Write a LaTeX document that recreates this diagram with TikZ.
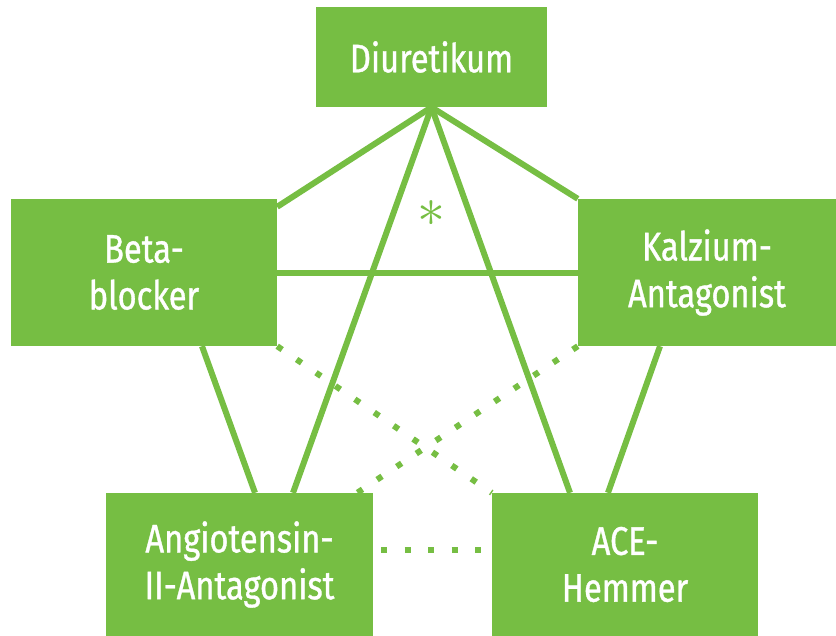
\documentclass[tikz,border=0pt]{standalone}
\usepackage{xcolor}
\usepackage{fontspec}
\setmainfont[FakeStretch=0.82, FakeBold=0.9]{Fira Sans}
\usepackage{tikz}
\usetikzlibrary{calc}
\usetikzlibrary{positioning}
\usetikzlibrary{backgrounds}
\definecolor{drugGreen}{RGB}{118,190,67}
\tikzset{
  drugbox/.style={rectangle, fill=drugGreen, text=white, inner sep=0pt,
    align=center, font=\fontsize{40}{47}\selectfont},
  combo/.style={draw=drugGreen, line width=6bp},
  weakcombo/.style={draw=drugGreen, line width=6bp, dash pattern=on 6bp off 17.5bp}
}
\begin{document}
\begin{tikzpicture}[x=1bp, y=-1bp]
 \useasboundingbox (0, 0) rectangle (836, 636);
 \node [drugbox, minimum width=231bp, minimum height=100bp] (diu) at (431.5, 57) {Diuretikum};
 \node [drugbox, minimum width=266bp, minimum height=147bp] (beta) at (144, 272.5) {Beta-\\blocker};
 \node [drugbox, minimum width=258bp, minimum height=147bp] (kalz) at (707, 272.5) {Kalzium-\\Antagonist};
 \node [drugbox, minimum width=267bp, minimum height=143bp] (angio) at (239.5, 564.5) {Angiotensin-\\II-Antagonist};
 \node [drugbox, minimum width=266bp, minimum height=143bp] (ace) at (625, 564.5) {ACE-\\Hemmer};
 \node [text=drugGreen, scale=5.6, inner sep=0pt] (star) at (431, 214) {$\ast$};
 \begin{scope}[on background layer]
 \draw [combo] (diu.south) -- ([yshift=-8bp]beta.north east);
 \draw [combo] (diu.south) -- (kalz.north west);
 \draw [combo] (diu.south) -- ([xshift=53.5bp]angio.north);
 \draw [combo] (diu.south) -- ([xshift=-55bp]ace.north);
 \draw [combo] (beta.east) -- (kalz.west);
 \draw [combo] ([xshift=58bp]beta.south) -- ([xshift=15.5bp]angio.north);
 \draw [combo] ([xshift=-47bp]kalz.south) -- ([xshift=-17bp]ace.north);
 \draw [weakcombo] (beta.south east) -- (ace.north west);
 \draw [weakcombo] (kalz.south west) -- ([xshift=-16bp]angio.north east);
 \draw [weakcombo, dash phase=15.5bp] ([yshift=14.5bp]angio.east) -- ([yshift=14.5bp]ace.west);
 \end{scope}
\end{tikzpicture}
\end{document}
